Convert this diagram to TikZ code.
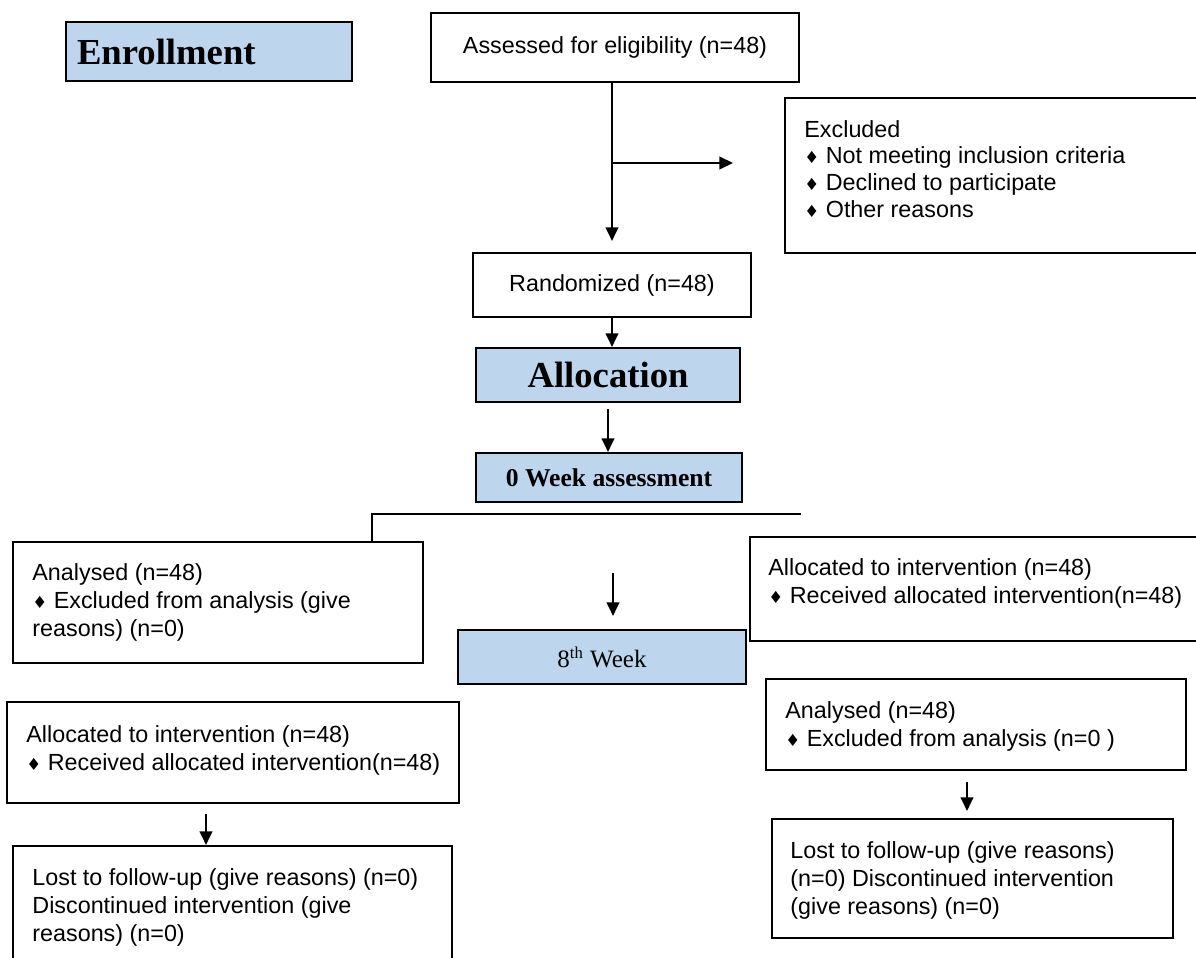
\documentclass[tikz,border=0pt]{standalone}
\usepackage{fontspec}
\setmainfont{Liberation Serif}
\setsansfont{Liberation Sans}
\newfontfamily\symfont{DejaVu Sans}
\usepackage{xcolor}
\usepackage{tikz}
\usetikzlibrary{arrows.meta,positioning}
\definecolor{boxBlue}{HTML}{BDD6EE}
\newlength\pxu
\setlength\pxu{0.48pt}
\newcommand\bul{{\symfont\fontsize{8}{8}\selectfont ♦}\ }

\begin{document}
\begin{tikzpicture}[x=0.48pt,y=-0.48pt,font=\sffamily\fontsize{11.2}{13.4}\selectfont,
  box/.style={draw,line width=1pt,inner sep=0pt},
  bluebox/.style={box,fill=boxBlue},
  txt/.style={anchor=north west,align=left,inner sep=0pt},
  arr/.style={-{Triangle[width=6pt,length=6.5pt]},line width=1pt},
  link/.style={line width=1pt}]
\path[use as bounding box,fill=white] (0,0) rectangle (1196,957);
% top part
\node[bluebox,minimum width=286\pxu,minimum height=59\pxu,text width=264\pxu,inner xsep=11\pxu,align=left,
  font=\rmfamily\bfseries\fontsize{17.6}{20}\selectfont] (enroll) at (209,51.5) {Enrollment};
\node[box,minimum width=368\pxu,minimum height=69\pxu] (assess) at (615,47.5) {Assessed for eligibility (n=48)};
\node[box,minimum width=445\pxu,minimum height=155\pxu] (excl) at (1007.5,175.5) {};
\node[txt,font=\sffamily\fontsize{11.2}{12.8}\selectfont] (excltxt) at (804,120)
  {Excluded\\ \bul Not meeting inclusion criteria\\ \bul Declined to participate\\ \bul Other reasons};
\node[box,minimum width=278\pxu,minimum height=64\pxu] (randz) at (612,285) {Randomized (n=48)};
\node[bluebox,minimum width=264\pxu,minimum height=54\pxu,
  font=\rmfamily\bfseries\fontsize{17.6}{20}\selectfont] (alloc) at (608,375) {Allocation};
\node[bluebox,minimum width=266\pxu,minimum height=49\pxu,
  font=\rmfamily\bfseries\fontsize{12.3}{14}\selectfont] (week0) at (609,477.5) {0 Week assessment};
% groups
\node[box,minimum width=410\pxu,minimum height=121\pxu] (ana1) at (218,602.5) {};
\node[txt] (ana1txt) at (32,563) {Analysed (n=48)\\ \bul Excluded from analysis (give\\ reasons) (n=0)};
\node[bluebox,minimum width=288\pxu,minimum height=54\pxu,
  font=\rmfamily\fontsize{12}{14}\selectfont] (week8) at (602,657) {8\textsuperscript{th} Week};
\node[box,minimum width=465\pxu,minimum height=104\pxu] (alloc2) at (982.5,589) {};
\node[txt] (alloc2txt) at (768,558) {Allocated to intervention (n=48)\\ \bul Received allocated intervention(n=48)};
\node[box,minimum width=452\pxu,minimum height=101\pxu] (alloc1) at (233,752.5) {};
\node[txt] (alloc1txt) at (26,725) {Allocated to intervention (n=48)\\ \bul Received allocated intervention(n=48)};
\node[box,minimum width=420\pxu,minimum height=91\pxu] (ana2) at (976,724.5) {};
\node[txt] (ana2txt) at (785,701) {Analysed (n=48)\\ \bul Excluded from analysis (n=0 )};
\node[box,minimum width=439\pxu,minimum height=134\pxu] (lost1) at (232.5,913) {};
\node[txt] (lost1txt) at (32,868) {Lost to follow-up (give reasons) (n=0)\\ Discontinued intervention (give\\ reasons) (n=0)};
\node[box,minimum width=401\pxu,minimum height=119\pxu] (lost2) at (972.5,878.5) {};
\node[txt] (lost2txt) at (790,841) {Lost to follow-up (give reasons)\\ (n=0) Discontinued intervention\\ (give reasons) (n=0)};
% connectors
\coordinate (exclfrom) at (612,163);
\coordinate (exclto) at (733,163);
\coordinate (splitL) at (372,514);
\coordinate (splitR) at (801,514);
\coordinate (wk8from) at (613,573);
\draw[arr,shorten >=11\pxu] (assess.south -| randz.north) -- (randz.north);
\draw[arr] (exclfrom) -- (exclto);
\draw[arr] (randz.south) -- (randz.south |- alloc.north);
\draw[arr,shorten <=6\pxu] (alloc.south) -- (alloc.south |- week0.north);
\draw[link] (ana1.north -| splitL) |- (splitR);
\draw[arr,shorten >=13\pxu] (wk8from) -- (wk8from |- week8.north);
\draw[arr,shorten <=10\pxu] ([shift={(-27,0)}]alloc1.south) -- ([shift={(-27,0)}]alloc1.south |- lost1.north);
\draw[arr,shorten <=11\pxu,shorten >=7\pxu] ([shift={(-9,0)}]ana2.south) -- ([shift={(-9,0)}]ana2.south |- lost2.north);
\end{tikzpicture}
\end{document}
